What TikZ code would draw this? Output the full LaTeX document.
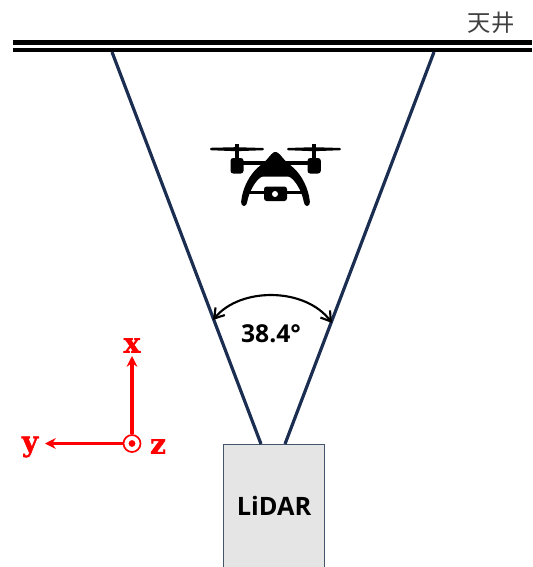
\documentclass[tikz,border=0pt]{standalone}
\usepackage{fontspec}
\setmainfont{Liberation Sans}
\newfontfamily\cjkfont{Noto Sans CJK JP}
\newfontfamily\labelfont{Open Sans}
\newfontfamily\axisfont[BoldFeatures={FakeBold=1.5}]{DejaVu Serif}
\usetikzlibrary{arrows.meta}
\definecolor{navy}{HTML}{1B2E52}
\definecolor{boxedge}{HTML}{44546A}
\definecolor{axisred}{HTML}{FF0000}
\tikzset{
  ceiling/.style={line width=3.3pt,black},
  ray/.style={line width=2.4pt,navy},
  axis/.style={line width=2.4pt,axisred,-{Stealth[length=8pt,width=8pt]}},
  axislabel/.style={text=axisred,font=\axisfont\bfseries\fontsize{21}{21}\selectfont,inner sep=0pt},
  angarc/.style={line width=1.6pt,black,{Straight Barb[length=7pt,width=9pt]}-{Straight Barb[length=7pt,width=9pt]}},
  dronepart/.style={fill=black,draw=none},
}
\begin{document}
\begin{tikzpicture}[x=0.75pt,y=-0.75pt]
\path[use as bounding box] (0,0) rectangle (532,567);
\clip (0,0) rectangle (532,567);
% ceiling
\coordinate (c1a) at (13,42.5); \coordinate (c1b) at (532,42.5);
\coordinate (c2a) at (13,50); \coordinate (c2b) at (532,50);
\draw[ceiling] (c1a) -- (c1b);
\draw[ceiling] (c2a) -- (c2b);
\node[inner sep=0pt,text=black!75,font=\cjkfont\fontsize{17.5}{17.5}\selectfont] (tj) at (491,23) {天井};
% LiDAR
\node[draw=boxedge,line width=0.6pt,fill=black!10,minimum width=101*0.75pt,minimum height=130*0.75pt,inner sep=0pt,anchor=north west] (lidar) at (223,444) {};
\node[inner sep=0pt,font=\labelfont\bfseries\fontsize{19}{19}\selectfont] (lidarlabel) at (274,506) {LiDAR};
% rays
\coordinate (r1a) at (112,52); \coordinate (r1b) at (261,444);
\coordinate (r2a) at (434,52); \coordinate (r2b) at (285,444);
\draw[ray] (r1a) -- (r1b);
\draw[ray] (r2a) -- (r2b);
% angle
\coordinate (a1) at (213,320); \coordinate (a2) at (332,323);
\draw[angarc] (a1) .. controls (240,287) and (305,287) .. (a2);
\node[inner sep=0pt,font=\labelfont\bfseries\fontsize{18.5}{18.5}\selectfont] (ang) at (271,334) {38.4°};
% drone
\fill[dronepart,rounded corners=0.8pt] (210,147.8) -- (236,147.2) -- (264,148) -- (264,150.2) -- (236,151.2) -- (210,150.2) -- cycle;
\fill[dronepart,rounded corners=0.8pt] (287,148) -- (314,147.2) -- (341,148) -- (341,150.2) -- (314,151.2) -- (287,150.2) -- cycle;
\fill[dronepart] (234.8,144) rectangle (238.8,160);
\fill[dronepart] (311.8,144) rectangle (315.8,160);
\fill[dronepart,rounded corners=2pt] (230.5,158) rectangle (243.5,173.5);
\fill[dronepart,rounded corners=2pt] (307.5,158) rectangle (320.8,173.5);
\fill[dronepart] (243,160.5) rectangle (308,165);
\fill[dronepart,rounded corners=1pt] (241,203) .. controls (242.5,188) and (249.5,175) .. (258.5,167) -- (266,160.5) -- (272,153.5) -- (275.3,151.5) -- (279,153.5) -- (285,160.5) -- (292.5,167) .. controls (301.5,175) and (308.5,188) .. (310,203) -- (308.5,206) -- (305.5,206) -- (304,203) .. controls (302,192) and (296,181) .. (289,176.5) -- (262,176.5) .. controls (255,181) and (249,192) .. (247,203) -- (245.5,206) -- (242.5,206) -- cycle;
\fill[dronepart] (246,191.2) rectangle (304,194.4);
\fill[dronepart,rounded corners=2pt] (264,186.5) rectangle (287,201);
\fill[white] (275,194) circle [radius=3*0.75pt];
% axes
\node[circle,draw=axisred,line width=1.3pt,minimum size=17*0.75pt,inner sep=0pt] (org) at (132,443.5) {};
\fill[axisred] (org.center) circle [radius=3.4*0.75pt];
\coordinate (xend) at (132,356);
\coordinate (yend) at (45,443.5);
\draw[axis] (org) -- (xend);
\draw[axis] (org) -- (yend);
\node[axislabel] (xl) at (132,345.5) {x};
\node[axislabel] (yl) at (30,447) {y};
\node[axislabel] (zl) at (158,446.5) {z};
\end{tikzpicture}
\end{document}
